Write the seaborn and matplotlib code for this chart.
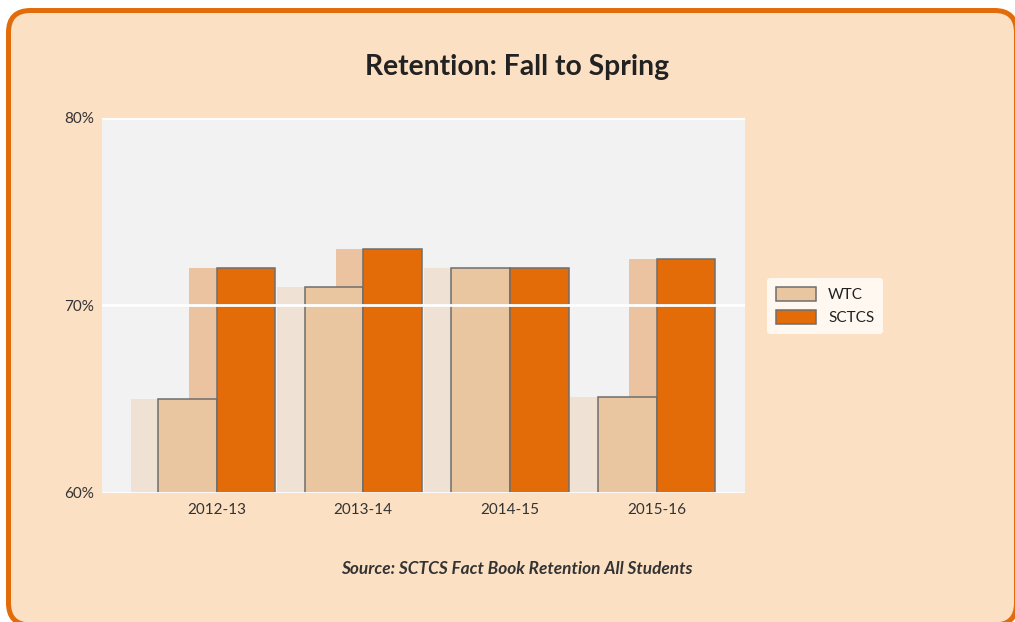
import matplotlib
matplotlib.use("Agg")
import matplotlib.pyplot as plt
import seaborn as sns
import pandas as pd
from matplotlib.patches import FancyBboxPatch
from matplotlib.transforms import IdentityTransform
from matplotlib.ticker import FuncFormatter

years = ["2012-13", "2013-14", "2014-15", "2015-16"]
wtc = [65.0, 71.0, 72.0, 65.1]
sctcs = [72.0, 73.0, 72.0, 72.5]
series_names = ["WTC", "SCTCS"]
bar_colors = ["#E9C6A0", "#E36C09"]
shadow_colors = ["#EFE2D4", "#EBC3A0"]

df = pd.DataFrame({
    "year": years * 2,
    "value": wtc + sctcs,
    "series": [series_names[0]] * len(years) + [series_names[1]] * len(years),
})

sns.set_theme(style="white")
plt.rcParams["font.family"] = ["Lato", "DejaVu Sans"]

fig = plt.figure(figsize=(10.15, 6.22), dpi=100, facecolor="white")

# rounded panel background
panel = FancyBboxPatch((8.5, -3), 1008, 614.5, boxstyle="round,pad=0,rounding_size=22",
                       transform=IdentityTransform(), facecolor="#FBE0C3",
                       edgecolor="#E36C0A", linewidth=3.6, zorder=-10)
fig.add_artist(panel)

ax = fig.add_axes([0.1005, 0.2074, 0.633, 0.6029])
ax.set_facecolor("#F2F2F2")

# shadow bars
n0 = len(ax.patches)
sns.barplot(data=df, x="year", y="value", hue="series", hue_order=series_names,
            palette=shadow_colors, saturation=1, width=0.8, dodge=True, legend=False,
            linewidth=0, edgecolor="none", ax=ax, zorder=0.5)
for p in ax.patches[n0:]:
    p.set_x(p.get_x() - 0.1875)
    p.set_zorder(0.5)
    p.set_linewidth(0)

# main bars
sns.barplot(data=df, x="year", y="value", hue="series", hue_order=series_names,
            palette=bar_colors, saturation=1, width=0.8, dodge=True,
            linewidth=1.1, edgecolor="#6E6E6E", ax=ax, zorder=1)

ax.set_ylim(60, 80)
ax.set_xlim(-0.782, 3.6)
ax.set_yticks([60, 70, 80])
ax.yaxis.set_major_formatter(FuncFormatter(lambda v, _: f"{v:.0f}%"))
ax.set_xlabel("")
ax.set_ylabel("")
for s in ax.spines.values():
    s.set_visible(False)
ax.set_axisbelow(False)
ax.grid(axis="y", color="white", linewidth=2)
ax.grid(axis="x", visible=False)
ax.tick_params(axis="both", length=0, labelsize=11, colors="#333333")
ax.tick_params(axis="y", pad=6)
ax.tick_params(axis="x", pad=7)

leg = ax.legend(loc="center", bbox_to_anchor=(0.813, 0.508), bbox_transform=fig.transFigure,
                frameon=True, facecolor="#FFF8F1", edgecolor="none", framealpha=1,
                fontsize=11, handlelength=2.6, handleheight=1.0, borderpad=0.6,
                labelspacing=0.5, fancybox=True)
for t in leg.get_texts():
    t.set_color("#222222")

fig.text(0.509, 0.893, "Retention: Fall to Spring", ha="center", va="center",
         fontsize=20.3, fontweight="bold", color="#222222")
fig.text(0.509, 0.085, "Source: SCTCS Fact Book Retention All Students", ha="center",
         va="center", fontsize=12.4, fontweight="bold", fontstyle="italic", color="#333333")

fig.savefig("out.png", dpi=100, facecolor="white")
